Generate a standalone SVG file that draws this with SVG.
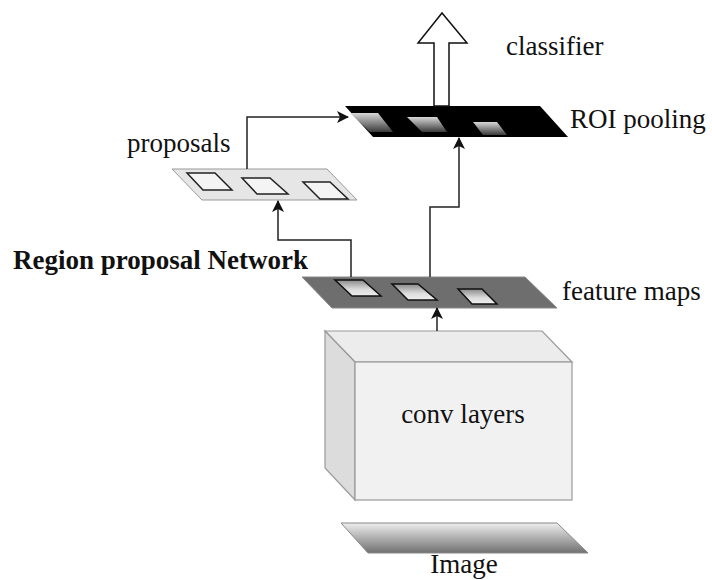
<svg xmlns="http://www.w3.org/2000/svg" width="712" height="580" viewBox="0 0 712 580">
  <style>
    .lbl { font-family: "Liberation Serif", "Times New Roman", serif; font-size: 27px; fill: #111; }
    .bold { font-weight: bold; }
    .wire { fill: none; stroke: #222; stroke-width: 1.5; marker-end: url(#tip); }
  </style>
  <defs>
    <marker id="tip" viewBox="0 0 12 12" refX="11" refY="6" markerWidth="12" markerHeight="12" markerUnits="userSpaceOnUse" orient="auto">
      <path d="M0,0 L12,6 L0,12 L3,6 Z" fill="#111"/>
    </marker>
    <linearGradient id="roiCell" x1="0" y1="0" x2="0" y2="1">
      <stop offset="0" stop-color="#d8d8d8"/>
      <stop offset="1" stop-color="#3a3a3a"/>
    </linearGradient>
    <linearGradient id="featCell" x1="0" y1="0" x2="0" y2="1">
      <stop offset="0" stop-color="#8a8a8a"/>
      <stop offset="0.6" stop-color="#dddddd"/>
      <stop offset="1" stop-color="#eeeeee"/>
    </linearGradient>
    <linearGradient id="imgPlate" x1="0" y1="0" x2="0" y2="1">
      <stop offset="0" stop-color="#eeeeee"/>
      <stop offset="1" stop-color="#707070"/>
    </linearGradient>
  </defs>

  <!-- Image input plate -->
  <g id="image">
    <polygon points="341,523 557,523 588,553 368,553" fill="url(#imgPlate)" stroke="#888" stroke-width="1"/>
    <text class="lbl" x="464" y="573" text-anchor="middle">Image</text>
  </g>

  <!-- Convolution block -->
  <g id="conv-layers">
    <polygon points="325,331 542,331 572,362 355,362" fill="#ececec" stroke="#9a9a9a" stroke-width="1.2"/>
    <polygon points="325,331 355,362 355,500 325,468" fill="#dcdcdc" stroke="#9a9a9a" stroke-width="1.2"/>
    <rect x="355" y="362" width="217" height="138" fill="#f1f1f1" stroke="#9a9a9a" stroke-width="1.2"/>
    <text class="lbl" x="463" y="423" text-anchor="middle">conv layers</text>
  </g>

  <!-- Feature maps -->
  <g id="feature-maps">
    <polygon points="302,277 525,277 557,308 332,308" fill="#6e6e6e" stroke="#888" stroke-width="1"/>
    <polygon points="335,280 363,280 381,296 352,296" fill="url(#featCell)" stroke="#111" stroke-width="1.5"/>
    <polygon points="392,284 418,284 437,300 408,300" fill="url(#featCell)" stroke="#111" stroke-width="1.5"/>
    <polygon points="458,289 482,289 497,304 472,304" fill="url(#featCell)" stroke="#111" stroke-width="1.5"/>
    <text class="lbl" x="562" y="300">feature maps</text>
  </g>

  <!-- Region proposal network label -->
  <g id="rpn">
    <text class="lbl bold" x="13" y="269">Region proposal Network</text>
  </g>

  <!-- Proposals -->
  <g id="proposals">
    <polygon points="172,169 327,169 357,200 202,200" fill="#e6e6e6" stroke="#999" stroke-width="1"/>
    <polygon points="187,173 215,173 232,190 203,190" fill="#f4f4f4" stroke="#222" stroke-width="1.5"/>
    <polygon points="242,178 270,178 288,194 257,194" fill="#f4f4f4" stroke="#222" stroke-width="1.5"/>
    <polygon points="303,182 330,182 348,199 320,199" fill="#f4f4f4" stroke="#222" stroke-width="1.5"/>
    <text class="lbl" x="127" y="152">proposals</text>
  </g>

  <!-- ROI pooling -->
  <g id="roi-pooling">
    <polygon points="345,106 540,106 568,137 373,137" fill="#000"/>
    <polygon points="350,113 378,113 393,132 370,132" fill="url(#roiCell)"/>
    <polygon points="407,117 437,117 447,132 422,132" fill="url(#roiCell)"/>
    <polygon points="473,122 497,122 507,135 483,135" fill="url(#roiCell)"/>
    <text class="lbl" x="570" y="128">ROI pooling</text>
  </g>

  <!-- Classifier output -->
  <g id="classifier">
    <polygon points="434,106 434,43 418,43 442,13 467,43 449,43 449,106" fill="#fff" stroke="#111" stroke-width="1.5"/>
    <text class="lbl" x="506" y="55">classifier</text>
  </g>

  <!-- Connectors -->
  <g id="connectors">
    <path class="wire" d="M437,331 V308"/>
    <path class="wire" d="M351,277 V240 H278 V201"/>
    <path class="wire" d="M430,277 V207 H459 V138"/>
    <path class="wire" d="M247,169 V117 H348"/>
  </g>
</svg>
